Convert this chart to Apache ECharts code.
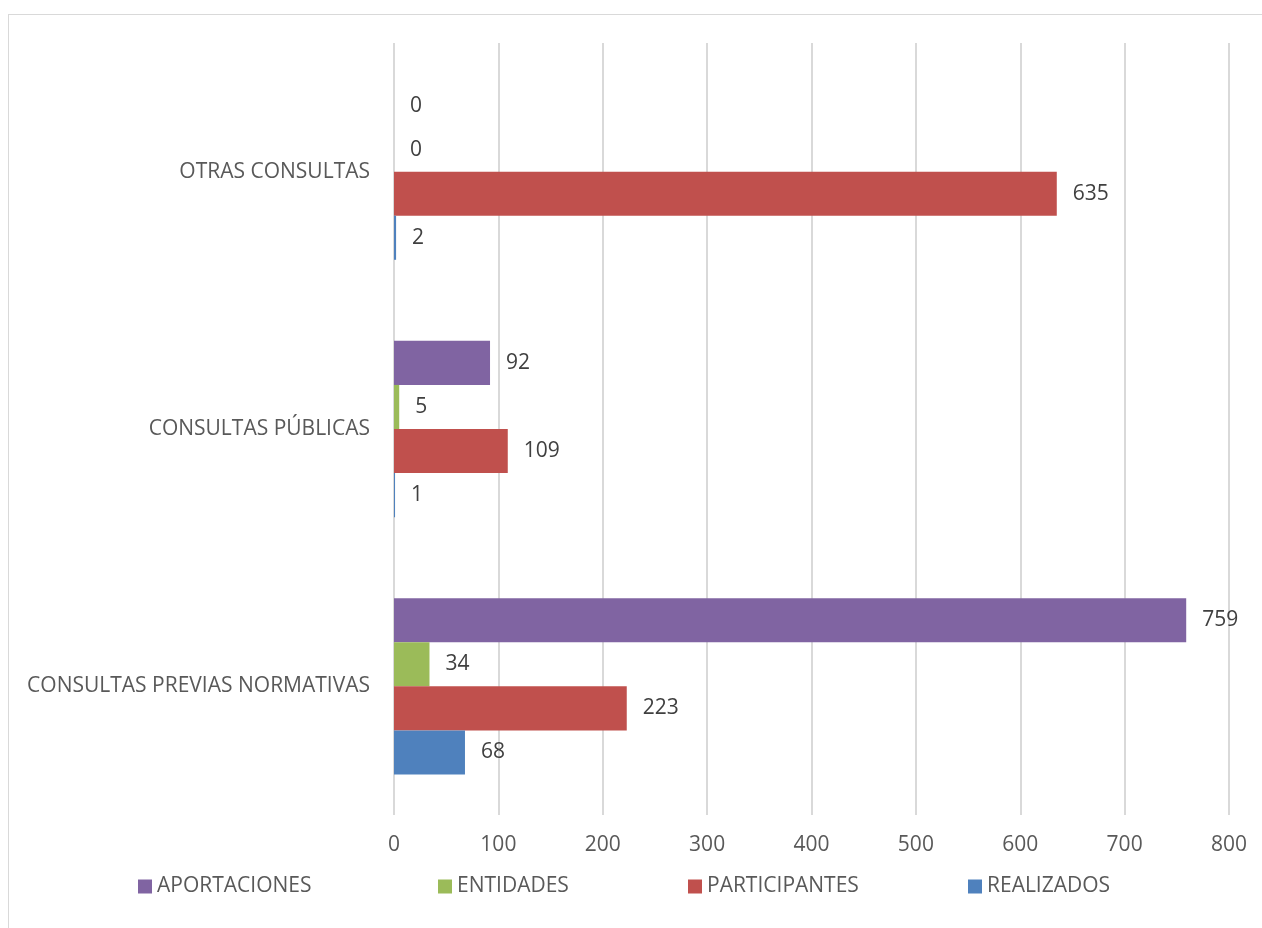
<!DOCTYPE html>
<html>
<head>
<meta charset="utf-8">
<script src="https://cdn.jsdelivr.net/npm/echarts@6/dist/echarts.min.js"></script>
<style>
  html, body { margin: 0; padding: 0; background: #fff; }
  #frame { position: absolute; left: 8px; top: 14px; width: 1262px; height: 928px; border: 1px solid #d9d9d9; box-sizing: border-box; }
  #chart { position: absolute; left: 0; top: 0; width: 1262px; height: 928px; }
</style>
</head>
<body>
<div id="frame"></div>
<div id="chart"></div>
<script>
  // categorias (de abajo hacia arriba)
  var categories = ['CONSULTAS PREVIAS NORMATIVAS', 'CONSULTAS PÚBLICAS', 'OTRAS CONSULTAS']
  var realizados = [68, 1, 2]
  var participantes = [223, 109, 635]
  var entidades = [34, 5, 0]
  var aportaciones = [759, 92, 0]
  var xTicks = [0, 100, 200, 300, 400, 500, 600, 700, 800]

  var FONT = '"Open Sans", sans-serif'
  var chart = echarts.init(document.getElementById('chart'))

  function serie(name, color, data) {
    return {
      name: name,
      type: 'bar',
      barGap: '0%',
      barCategoryGap: '31.5%',
      itemStyle: { color: color },
      label: {
        show: true,
        position: 'right',
        distance: 16,
        color: '#404040',
        fontSize: 21,
        fontFamily: FONT
      },
      data: data
    }
  }

  function legendAt(left, name) {
    return {
      left: left,
      top: 871,
      data: [name],
      icon: 'rect',
      itemWidth: 14,
      itemHeight: 14,
      itemGap: 0,
      textStyle: { color: '#595959', fontSize: 21, fontFamily: FONT }
    }
  }

  chart.setOption({
    animation: false,
    legend: [
      legendAt(133, 'APORTACIONES'),
      legendAt(433, 'ENTIDADES'),
      legendAt(683, 'PARTICIPANTES'),
      legendAt(963, 'REALIZADOS')
    ],
    grid: {
      left: 394,
      right: 33,
      top: 43,
      bottom: 113,
      containLabel: false
    },
    xAxis: {
      type: 'value',
      min: xTicks[0],
      max: xTicks[xTicks.length - 1],
      interval: 100,
      axisLine: { show: false },
      axisTick: { show: false },
      splitLine: { lineStyle: { color: '#d9d9d9', width: 2 } },
      axisLabel: { color: '#595959', fontSize: 21, fontFamily: FONT, margin: 20 }
    },
    yAxis: {
      type: 'category',
      data: categories,
      axisLine: { show: false },
      axisTick: { show: false },
      axisLabel: { color: '#595959', fontSize: 21, fontFamily: FONT, margin: 24 }
    },
    // el primer serie queda arriba dentro de cada grupo
    series: [
      serie('APORTACIONES', '#8064a2', aportaciones),
      serie('ENTIDADES', '#9bbb59', entidades),
      serie('PARTICIPANTES', '#c0504d', participantes),
      serie('REALIZADOS', '#4f81bd', realizados)
    ]
  })
</script>
</body>
</html>
